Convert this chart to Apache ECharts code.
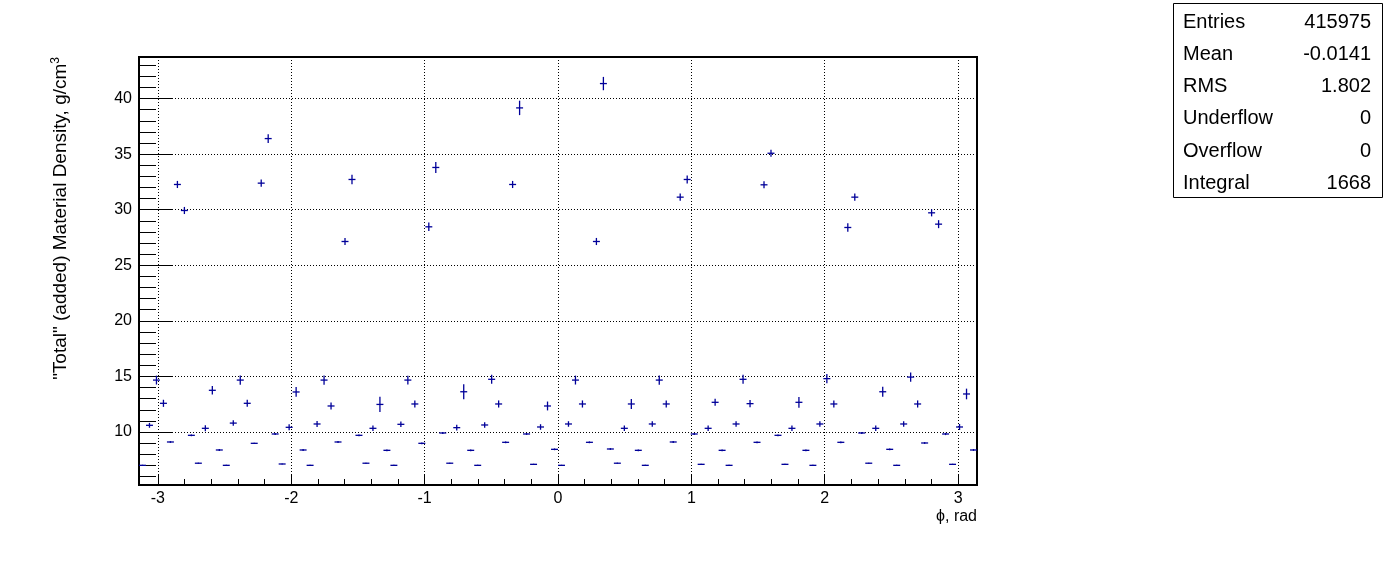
<!DOCTYPE html>
<html><head><meta charset="utf-8">
<script src="https://cdn.jsdelivr.net/npm/echarts@6/dist/echarts.min.js"></script>
<style>html,body{margin:0;padding:0;background:#fff}#c{width:1396px;height:572px}</style>
</head><body><div id="c"></div>
<script>
// ---- data ----
const nBins = 120;
const phiMin = -Math.PI, phiMax = Math.PI;
const density = [
  7.0, 10.6, 14.67, 12.58, 9.1, 32.27, 29.93, 9.7, 7.19, 10.33,
  13.75, 8.38, 7.0, 10.8, 14.67, 12.58, 8.98, 32.39, 36.40, 9.82,
  7.12, 10.42, 13.6, 8.38, 7.0, 10.72, 14.67, 12.34, 9.1, 27.14,
  32.72, 9.7, 7.19, 10.33, 12.48, 8.35, 7.0, 10.69, 14.67, 12.52,
  8.98, 28.46, 33.80, 9.91, 7.19, 10.39, 13.62, 8.35, 7.0, 10.63,
  14.74, 12.52, 9.07, 32.27, 39.16, 9.82, 7.09, 10.45, 12.34, 8.44,
  7.0, 10.72, 14.67, 12.52, 9.07, 27.14, 41.35, 8.47, 7.19, 10.33,
  12.52, 8.35, 7.0, 10.72, 14.67, 12.52, 9.1, 31.13, 32.72, 9.82,
  7.09, 10.33, 12.67, 8.35, 7.0, 10.72, 14.74, 12.55, 9.07, 32.24,
  35.08, 9.7, 7.09, 10.33, 12.67, 8.35, 7.0, 10.72, 14.8, 12.52,
  9.07, 28.40, 31.13, 9.91, 7.19, 10.33, 13.62, 8.44, 7.0, 10.72,
  14.94, 12.52, 9.01, 29.72, 28.70, 9.82, 7.09, 10.45, 13.42, 8.38
];
const densityErr = [
  0.05, 0.22, 0.4, 0.32, 0.08, 0.32, 0.32, 0.08, 0.05, 0.27,
  0.38, 0.08, 0.05, 0.25, 0.42, 0.32, 0.06, 0.32, 0.4, 0.1,
  0.05, 0.27, 0.44, 0.08, 0.05, 0.27, 0.42, 0.32, 0.08, 0.32,
  0.42, 0.08, 0.05, 0.25, 0.68, 0.08, 0.05, 0.25, 0.4, 0.32,
  0.08, 0.38, 0.5, 0.08, 0.05, 0.25, 0.68, 0.08, 0.05, 0.25,
  0.4, 0.32, 0.08, 0.32, 0.65, 0.08, 0.05, 0.25, 0.4, 0.08,
  0.05, 0.25, 0.4, 0.32, 0.08, 0.32, 0.6, 0.08, 0.05, 0.25,
  0.45, 0.08, 0.05, 0.25, 0.42, 0.32, 0.08, 0.32, 0.36, 0.1,
  0.05, 0.25, 0.32, 0.08, 0.05, 0.25, 0.4, 0.32, 0.08, 0.32,
  0.32, 0.08, 0.05, 0.25, 0.48, 0.08, 0.05, 0.25, 0.42, 0.32,
  0.08, 0.38, 0.32, 0.08, 0.05, 0.25, 0.44, 0.08, 0.05, 0.25,
  0.42, 0.32, 0.08, 0.32, 0.36, 0.1, 0.05, 0.27, 0.48, 0.08
];
const xTickValues = [-3, -2, -1, 0, 1, 2, 3];
const yTickValues = [10, 15, 20, 25, 30, 35, 40];
const yMin = 5.23, yMax = 43.74;
const statsLabels = ['Entries', 'Mean', 'RMS', 'Underflow', 'Overflow', 'Integral'];
const statsValues = ['415975', '-0.0141', '1.802', '0', '0', '1668'];
const yTitle = '"Total" (added) Material Density, g/cm{sup|3}';
const xTitle = '\u03D5, rad';

// ---- build ----
const FONT = '"Liberation Sans", Arial, Helvetica, sans-serif';
const binW = (phiMax - phiMin) / nBins;
const data = density.map((v, i) => [phiMin + (i + 0.5) * binW, v, densityErr[i]]);
const xMinor = [];
for (let k = -15; k <= 15; k++) if (k % 5 !== 0) xMinor.push(k / 5);
const yMinor = [];
for (let k = Math.ceil(yMin); k <= Math.floor(yMax); k++) if (k % 5 !== 0) yMinor.push(k);
const COLOR = '#000099';

const chart = echarts.init(document.getElementById('c'), null, {renderer: 'canvas'});
const intFmt = v => (Math.abs(v - Math.round(v)) < 1e-9 ? String(Math.round(v)) : '');

const statsGraphics = [{
  type: 'rect', shape: {x: 1173.5, y: 3.5, width: 209, height: 194},
  style: {fill: '#fff', stroke: '#000', lineWidth: 1}
}];
statsLabels.forEach((l, i) => {
  const yy = 22 + i * 32.3;
  statsGraphics.push({type: 'text', x: 1183, y: yy,
    style: {text: l, font: '20px ' + FONT, fill: '#000', align: 'left', verticalAlign: 'middle'}});
  statsGraphics.push({type: 'text', x: 1371, y: yy,
    style: {text: statsValues[i], font: '20px ' + FONT, fill: '#000', align: 'right', verticalAlign: 'middle'}});
});

const option = {
  animation: false,
  backgroundColor: '#fff',
  grid: {left: 139, right: 419, top: 57, bottom: 87, show: true, borderColor: '#000', borderWidth: 2, backgroundColor: 'transparent'},
  xAxis: [{
    type: 'value', min: phiMin, max: phiMax, position: 'bottom',
    axisLine: {show: true, onZero: false, lineStyle: {color: '#000', width: 2}},
    axisTick: {show: true, inside: true, length: 11, customValues: xTickValues, lineStyle: {color: '#000', width: 1}},
    axisLabel: {show: true, customValues: xTickValues, formatter: intFmt, margin: 6, color: '#000', fontSize: 16, fontFamily: FONT},
    splitLine: {show: true, lineStyle: {color: '#000', width: 1, type: [1, 2]}}
  }, {
    type: 'value', min: phiMin, max: phiMax, position: 'bottom', gridIndex: 0,
    axisLine: {show: false, onZero: false},
    axisTick: {show: true, inside: true, length: 6, customValues: xMinor, lineStyle: {color: '#000', width: 1}},
    axisLabel: {show: false},
    splitLine: {show: false}
  }],
  yAxis: [{
    type: 'value', min: yMin, max: yMax, position: 'left', splitNumber: 8,
    axisLine: {show: true, onZero: false, lineStyle: {color: '#000', width: 2}},
    axisTick: {show: true, inside: true, length: 33, customValues: yTickValues, lineStyle: {color: '#000', width: 1}},
    axisLabel: {show: true, customValues: yTickValues, formatter: intFmt, margin: 7, color: '#000', fontSize: 16, fontFamily: FONT},
    splitLine: {show: true, lineStyle: {color: '#000', width: 1, type: [1, 2]}}
  }, {
    type: 'value', min: yMin, max: yMax, position: 'left', gridIndex: 0,
    axisLine: {show: false, onZero: false},
    axisTick: {show: true, inside: true, length: 17, customValues: yMinor, lineStyle: {color: '#000', width: 1}},
    axisLabel: {show: false},
    splitLine: {show: false}
  }],
  series: [{
    type: 'custom', xAxisIndex: 0, yAxisIndex: 0, clip: true,
    data: data,
    renderItem: function (params, api) {
      const x = api.value(0), y = api.value(1), e = api.value(2);
      const hw = binW / 2;
      const a = api.coord([x - hw, y]), b = api.coord([x + hw, y]);
      const c = api.coord([x, y - e]), d = api.coord([x, y + e]);
      const st = {stroke: COLOR, lineWidth: 1.3};
      return {type: 'group', children: [
        {type: 'line', shape: {x1: a[0], y1: a[1], x2: b[0], y2: b[1]}, style: st},
        {type: 'line', shape: {x1: c[0], y1: c[1], x2: d[0], y2: d[1]}, style: st}
      ]};
    }
  }],
  graphic: [
    {type: 'text', x: 61, y: 57, rotation: Math.PI / 2,
      style: {text: yTitle, font: '19px ' + FONT, fill: '#000', align: 'right', verticalAlign: 'middle',
        rich: {sup: {fontSize: 12, fontFamily: FONT, fill: '#000', padding: [0, 0, 10, 0]}}}},
    {type: 'text', x: 977, y: 517,
      style: {text: xTitle, font: '16px ' + FONT, fill: '#000', align: 'right', verticalAlign: 'middle'}}
  ].concat(statsGraphics)
};
chart.setOption(option);
</script></body></html>
